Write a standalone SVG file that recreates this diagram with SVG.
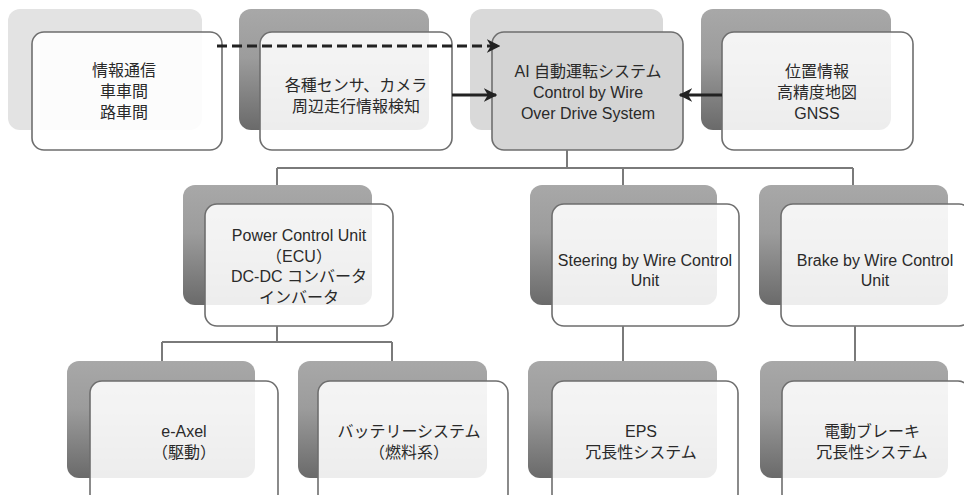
<svg xmlns="http://www.w3.org/2000/svg" width="964" height="495" viewBox="0 0 964 495">
<defs>
<linearGradient id="dk" x1="0" y1="0" x2="0" y2="1">
<stop offset="0" stop-color="#a8a8a8"/>
<stop offset="0.4" stop-color="#9c9c9c"/>
<stop offset="1" stop-color="#6a6a6a"/>
</linearGradient>
<marker id="ah" viewBox="0 0 10 10" refX="9" refY="5" markerWidth="4.5" markerHeight="4.5" orient="auto" markerUnits="strokeWidth">
<path d="M0,0 L10,5 L0,10 L3,5 Z" fill="#222"/>
</marker>
<style>
.bk{fill:url(#dk)}
.lt{fill:#e3e3e3}
.fr{fill:#ffffff;fill-opacity:0.88;stroke:#6e6e6e;stroke-width:1.6}
.frg{fill:#d4d4d4;stroke:#6e6e6e;stroke-width:1.6}
text{font-family:"Liberation Sans","Noto Sans CJK JP",sans-serif;font-size:16px;fill:#2a2a2a;text-anchor:middle}
.tl{fill:none;stroke:#7a7a7a;stroke-width:2}
.ar{fill:none;stroke:#222;stroke-width:3;marker-end:url(#ah)}
</style>
</defs>
<rect width="964" height="495" fill="#ffffff"/>

<g id="n-info">
<rect class="lt" x="8" y="9" width="194" height="121" rx="12"/>
<rect class="fr" x="32" y="32" width="190" height="118" rx="12"/>
<text x="124" y="76">情報通信</text>
<text x="124" y="97">車車間</text>
<text x="124" y="118">路車間</text>
</g>

<g id="n-sensor">
<rect class="bk" x="239" y="9" width="190" height="121" rx="12"/>
<rect class="fr" x="260" y="32" width="192" height="118" rx="12"/>
<text x="356" y="91">各種センサ、カメラ</text>
<text x="356" y="112">周辺走行情報検知</text>
</g>

<g id="n-ai">
<rect fill="#d9d9d9" x="470" y="9" width="193" height="121" rx="12"/>
<rect class="frg" x="492" y="32" width="191" height="118" rx="12"/>
<text x="588" y="77">AI 自動運転システム</text>
<text x="588" y="98">Control by Wire</text>
<text x="588" y="119">Over Drive System</text>
</g>

<g id="n-pos">
<rect class="bk" x="701" y="9" width="190" height="121" rx="12"/>
<rect class="fr" x="722" y="32" width="191" height="118" rx="12"/>
<text x="817" y="77">位置情報</text>
<text x="817" y="98">高精度地図</text>
<text x="817" y="119">GNSS</text>
</g>

<g id="n-pcu">
<rect class="bk" x="183" y="185" width="189" height="120" rx="12"/>
<rect class="fr" x="205" y="204" width="188" height="122" rx="12"/>
<text x="299" y="241">Power Control Unit</text>
<text x="299" y="262">（ECU）</text>
<text x="299" y="282">DC-DC コンバータ</text>
<text x="299" y="303">インバータ</text>
</g>

<g id="n-steer">
<rect class="bk" x="530" y="185" width="187" height="120" rx="12"/>
<rect class="fr" x="552" y="204" width="187" height="122" rx="12"/>
<text x="645" y="266">Steering by Wire Control</text>
<text x="645" y="286">Unit</text>
</g>

<g id="n-brake">
<rect class="bk" x="759" y="185" width="189" height="120" rx="12"/>
<rect class="fr" x="781" y="204" width="190" height="122" rx="12"/>
<text x="875" y="266">Brake by Wire Control</text>
<text x="875" y="286">Unit</text>
</g>

<g id="n-eaxel">
<rect class="bk" x="67" y="361" width="188" height="117" rx="12"/>
<rect class="fr" x="90" y="381" width="188" height="125" rx="12"/>
<text x="184" y="437">e-Axel</text>
<text x="184" y="458">（駆動）</text>
</g>

<g id="n-battery">
<rect class="bk" x="298" y="361" width="189" height="117" rx="12"/>
<rect class="fr" x="318" y="381" width="190" height="125" rx="12"/>
<text x="409" y="437">バッテリーシステム</text>
<text x="409" y="458">（燃料系）</text>
</g>

<g id="n-eps">
<rect class="bk" x="528" y="361" width="189" height="117" rx="12"/>
<rect class="fr" x="552" y="381" width="186" height="125" rx="12"/>
<text x="641" y="437">EPS</text>
<text x="641" y="458">冗長性システム</text>
</g>

<g id="n-ebrake">
<rect class="bk" x="760" y="361" width="188" height="117" rx="12"/>
<rect class="fr" x="782" y="381" width="188" height="125" rx="12"/>
<text x="872" y="437">電動ブレーキ</text>
<text x="872" y="458">冗長性システム</text>
</g>

<g id="connectors">
<path class="tl" d="M567,150 V168 M277,168 H853 M277,168 V185 M623,168 V185 M853,168 V185"/>
<path class="tl" d="M277,326 V342 M162,342 H392 M162,342 V361 M392,342 V361"/>
<path class="tl" d="M623,326 V361 M855,326 V361"/>
<path class="ar" d="M217,46 H499" stroke-dasharray="10,5"/>
<path class="ar" d="M452,95 H496"/>
<path class="ar" d="M722,95 H680"/>
</g>
</svg>
